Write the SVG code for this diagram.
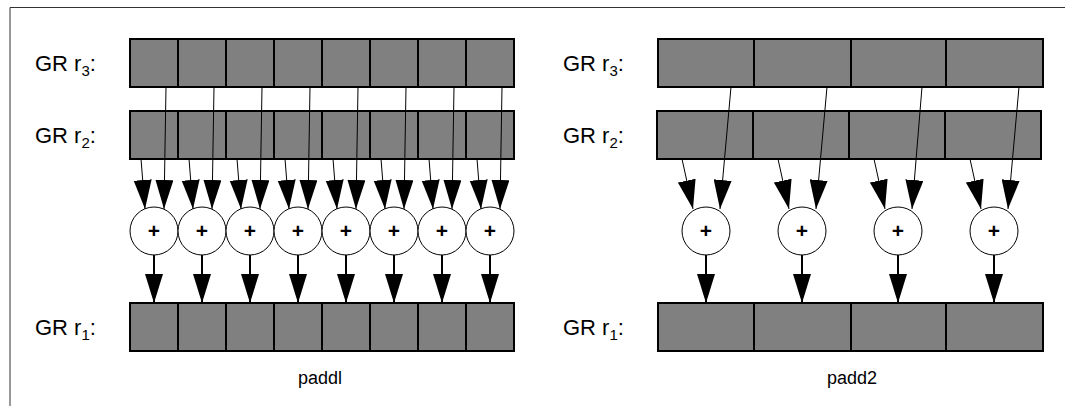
<svg xmlns="http://www.w3.org/2000/svg" width="1065" height="406" viewBox="0 0 1065 406">
<style>
.frame{stroke:#333;stroke-width:1;fill:none}
.reg{fill:#808080;stroke:#000;stroke-width:2}
.div{stroke:#000;stroke-width:2}
.lbl{font-family:"Liberation Sans",Arial,sans-serif;font-size:22px;fill:#000}
.sub{font-size:15px}
.cap{font-family:"Liberation Sans",Arial,sans-serif;font-size:18px;fill:#000;text-anchor:middle}
.add{fill:#fff;stroke:#000;stroke-width:1}
.plus{font-family:"Liberation Sans",Arial,sans-serif;font-size:21px;font-weight:bold;text-anchor:middle;fill:#000}
.thin{stroke:#000;stroke-width:1;fill:none;marker-end:url(#ah)}
.thick{stroke:#000;stroke-width:2;fill:none;marker-end:url(#ah)}
</style>
<defs>
<marker id="ah" markerUnits="userSpaceOnUse" markerWidth="30" markerHeight="18" refX="29" refY="9" orient="auto" viewBox="0 0 30 18">
<path d="M0,0 L29,9 L0,18 Z" fill="#000"/>
</marker>
</defs>
<g id="frame"><path class="frame" d="M10,406 V7.5 H1066"/></g>

<g id="labels">
<text class="lbl" x="35" y="71">GR r<tspan class="sub" dy="5">3</tspan><tspan dy="-5">:</tspan></text>
<text class="lbl" x="35" y="143">GR r<tspan class="sub" dy="5">2</tspan><tspan dy="-5">:</tspan></text>
<text class="lbl" x="35" y="335">GR r<tspan class="sub" dy="5">1</tspan><tspan dy="-5">:</tspan></text>
<text class="lbl" x="563" y="71">GR r<tspan class="sub" dy="5">3</tspan><tspan dy="-5">:</tspan></text>
<text class="lbl" x="563" y="143">GR r<tspan class="sub" dy="5">2</tspan><tspan dy="-5">:</tspan></text>
<text class="lbl" x="563" y="335">GR r<tspan class="sub" dy="5">1</tspan><tspan dy="-5">:</tspan></text>
<text class="cap" x="320" y="384">paddl</text>
<text class="cap" x="852" y="384">padd2</text>
</g>

<g id="left-r3">
<rect class="reg" x="130" y="39" width="384" height="48"/>
<path class="div" d="M178,39V87M226,39V87M274,39V87M322,39V87M370,39V87M418,39V87M466,39V87"/>
</g>
<g id="left-r2">
<rect class="reg" x="130" y="111" width="384" height="48"/>
<path class="div" d="M178,111V159M226,111V159M274,111V159M322,111V159M370,111V159M418,111V159M466,111V159"/>
</g>
<g id="left-r1">
<rect class="reg" x="130" y="303" width="384" height="48"/>
<path class="div" d="M178,303V351M226,303V351M274,303V351M322,303V351M370,303V351M418,303V351M466,303V351"/>
</g>

<g id="right-r3">
<rect class="reg" x="658" y="39" width="385" height="48"/>
<path class="div" d="M754,39V87M851,39V87M946,39V87"/>
</g>
<g id="right-r2">
<rect class="reg" x="657" y="111" width="384" height="48"/>
<path class="div" d="M753,111V159M849,111V159M945,111V159"/>
</g>
<g id="right-r1">
<rect class="reg" x="658" y="303" width="385" height="48"/>
<path class="div" d="M754,303V351M851,303V351M946,303V351"/>
</g>

<g id="left-adders">
<g id="la1"><circle class="add" cx="154" cy="231" r="24"/><text class="plus" x="154" y="238">+</text></g>
<g id="la2"><circle class="add" cx="202" cy="231" r="24"/><text class="plus" x="202" y="238">+</text></g>
<g id="la3"><circle class="add" cx="250" cy="231" r="24"/><text class="plus" x="250" y="238">+</text></g>
<g id="la4"><circle class="add" cx="298" cy="231" r="24"/><text class="plus" x="298" y="238">+</text></g>
<g id="la5"><circle class="add" cx="346" cy="231" r="24"/><text class="plus" x="346" y="238">+</text></g>
<g id="la6"><circle class="add" cx="394" cy="231" r="24"/><text class="plus" x="394" y="238">+</text></g>
<g id="la7"><circle class="add" cx="442" cy="231" r="24"/><text class="plus" x="442" y="238">+</text></g>
<g id="la8"><circle class="add" cx="490" cy="231" r="24"/><text class="plus" x="490" y="238">+</text></g>
</g>
<g id="right-adders">
<g id="ra1"><circle class="add" cx="706" cy="231" r="24"/><text class="plus" x="706" y="238">+</text></g>
<g id="ra2"><circle class="add" cx="802" cy="231" r="24"/><text class="plus" x="802" y="238">+</text></g>
<g id="ra3"><circle class="add" cx="898" cy="231" r="24"/><text class="plus" x="898" y="238">+</text></g>
<g id="ra4"><circle class="add" cx="994" cy="231" r="24"/><text class="plus" x="994" y="238">+</text></g>
</g>

<g id="connectors">
<path class="thin" d="M141,159L145,209"/><path class="thin" d="M166,87L164,209"/>
<path class="thin" d="M189,159L193,209"/><path class="thin" d="M214,87L212,209"/>
<path class="thin" d="M237,159L241,209"/><path class="thin" d="M262,87L260,209"/>
<path class="thin" d="M285,159L289,209"/><path class="thin" d="M310,87L308,209"/>
<path class="thin" d="M333,159L337,209"/><path class="thin" d="M358,87L356,209"/>
<path class="thin" d="M381,159L385,209"/><path class="thin" d="M406,87L404,209"/>
<path class="thin" d="M429,159L433,209"/><path class="thin" d="M454,87L452,209"/>
<path class="thin" d="M477,159L481,209"/><path class="thin" d="M502,87L500,209"/>

<path class="thick" d="M154,255V303"/><path class="thick" d="M202,255V303"/>
<path class="thick" d="M250,255V303"/><path class="thick" d="M298,255V303"/>
<path class="thick" d="M346,255V303"/><path class="thick" d="M394,255V303"/>
<path class="thick" d="M442,255V303"/><path class="thick" d="M490,255V303"/>

<path class="thin" d="M682,159L693,209"/><path class="thin" d="M731,87L720,209"/>
<path class="thin" d="M778,159L789,209"/><path class="thin" d="M827,87L816,209"/>
<path class="thin" d="M874,159L885,209"/><path class="thin" d="M922,87L912,209"/>
<path class="thin" d="M970,159L981,209"/><path class="thin" d="M1019,87L1008,209"/>

<path class="thick" d="M706,255V303"/><path class="thick" d="M802,255V303"/>
<path class="thick" d="M898,255V303"/><path class="thick" d="M994,255V303"/>
</g>
</svg>
